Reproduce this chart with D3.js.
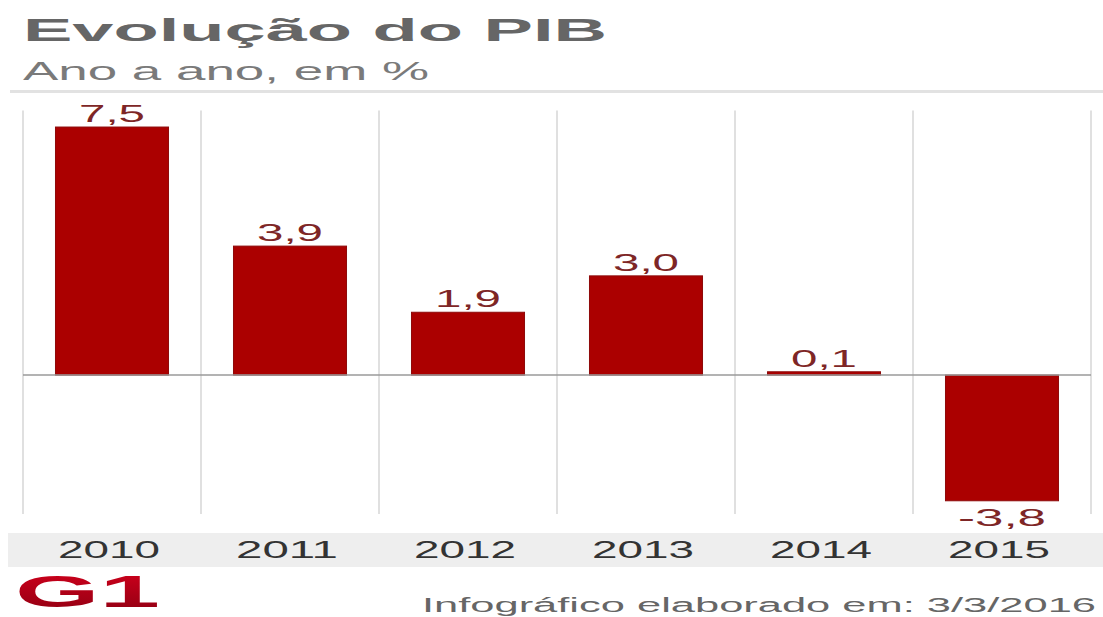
<!DOCTYPE html>
<html lang="pt-BR">
<head>
<meta charset="utf-8">
<title>Evolução do PIB</title>
<script src="https://cdn.jsdelivr.net/npm/d3@7"></script>
<style>
  html, body { margin: 0; padding: 0; background: #fff; }
  svg { display: block; font-family: "Liberation Sans", Arial, sans-serif; }
</style>
</head>
<body>
<svg id="chart" width="1103" height="617"></svg>
<script>
// GDP growth, year over year (%)
const years = ["2010", "2011", "2012", "2013", "2014", "2015"];
const growth = [7.5, 3.9, 1.9, 3.0, 0.1, -3.8];
const growthLabels = ["7,5", "3,9", "1,9", "3,0", "0,1", "-3,8"];
const yDomain = [-4.2, 8];

const svg = d3.select("#chart");
const W = 1103;

// Scales
const x = d3.scaleBand().domain(years).range([23, 1091]).padding(0);
const y = d3.scaleLinear().domain(yDomain).range([514, 110.5]);
const barW = x.bandwidth() * 0.635;
const barX = d => x(d) + (x.bandwidth() - barW) / 2;

// Header
svg.append("text")
  .attr("x", 23).attr("y", 41)
  .attr("font-size", 31).attr("font-weight", "bold")
  .attr("fill", "#666")
  .attr("textLength", 584).attr("lengthAdjust", "spacingAndGlyphs")
  .text("Evolução do PIB");

svg.append("text")
  .attr("x", 23).attr("y", 80)
  .attr("font-size", 25)
  .attr("fill", "#7a7a7a")
  .attr("textLength", 406).attr("lengthAdjust", "spacingAndGlyphs")
  .text("Ano a ano, em %");

svg.append("line")
  .attr("x1", 10).attr("x2", W).attr("y1", 91.5).attr("y2", 91.5)
  .attr("stroke", "#e2e2e2").attr("stroke-width", 3);

// Column separators
const edges = years.map(d => x(d)).concat([x(years[years.length - 1]) + x.bandwidth()]);
svg.append("g").selectAll("line")
  .data(edges)
  .join("line")
  .attr("x1", d => d).attr("x2", d => d)
  .attr("y1", y(yDomain[1])).attr("y2", y(yDomain[0]))
  .attr("stroke", "#e0e0e0").attr("stroke-width", 2);

// Bars
const data = years.map((yr, i) => ({ yr, v: growth[i], label: growthLabels[i] }));

svg.append("g").selectAll("rect")
  .data(data)
  .join("rect")
  .attr("x", d => barX(d.yr))
  .attr("width", barW)
  .attr("y", d => y(Math.max(0, d.v)))
  .attr("height", d => Math.max(2, Math.abs(y(d.v) - y(0))))
  .attr("fill", "#ab0000")
  .attr("stroke", "#8e0a0a").attr("stroke-width", 1);

// Zero baseline
svg.append("line")
  .attr("x1", x(years[0])).attr("x2", x(years[years.length - 1]) + x.bandwidth())
  .attr("y1", y(0)).attr("y2", y(0))
  .attr("stroke", "#9a9a9a").attr("stroke-width", 1.5);

// Value labels
svg.append("g").selectAll("text")
  .data(data)
  .join("text")
  .attr("x", d => x(d.yr) + x.bandwidth() / 2)
  .attr("y", d => d.v >= 0 ? y(d.v) - 5 : y(d.v) + 25)
  .attr("text-anchor", "middle")
  .attr("font-size", 23)
  .attr("fill", "#7e2626")
  .attr("textLength", d => d.label.length * 22)
  .attr("lengthAdjust", "spacingAndGlyphs")
  .text(d => d.label);

// Category band with year labels
svg.append("rect")
  .attr("x", 8).attr("y", 533).attr("width", W - 8).attr("height", 34)
  .attr("fill", "#eeeeee");

const xAxis = d3.axisBottom(x).tickSize(0).tickPadding(0);
const axisG = svg.append("g")
  .attr("transform", "translate(0,540)")
  .call(xAxis);
axisG.select(".domain").remove();
axisG.selectAll("text")
  .attr("y", 0).attr("dy", "0")
  .attr("transform", "translate(-3,18)")
  .attr("font-size", 24)
  .attr("font-family", "Liberation Sans, Arial, sans-serif")
  .attr("fill", "#333")
  .attr("textLength", 102).attr("lengthAdjust", "spacingAndGlyphs");

// Footer: G1 logo and credit
const defs = svg.append("defs");
const grad = defs.append("linearGradient")
  .attr("id", "logoGrad").attr("x1", 0).attr("y1", 0).attr("x2", 0).attr("y2", 1);
grad.append("stop").attr("offset", "0%").attr("stop-color", "#d4001c");
grad.append("stop").attr("offset", "100%").attr("stop-color", "#8c0012");

svg.append("text")
  .attr("x", 15).attr("y", 607)
  .attr("font-size", 45).attr("font-weight", "900")
  .attr("font-family", "Liberation Sans, Arial, sans-serif")
  .attr("fill", "url(#logoGrad)")
  .attr("textLength", 145).attr("lengthAdjust", "spacingAndGlyphs")
  .text("G1");

svg.append("text")
  .attr("x", 1096).attr("y", 612)
  .attr("text-anchor", "end")
  .attr("font-size", 20)
  .attr("fill", "#666")
  .attr("textLength", 674).attr("lengthAdjust", "spacingAndGlyphs")
  .text("Infográfico elaborado em: 3/3/2016");
</script>
</body>
</html>
